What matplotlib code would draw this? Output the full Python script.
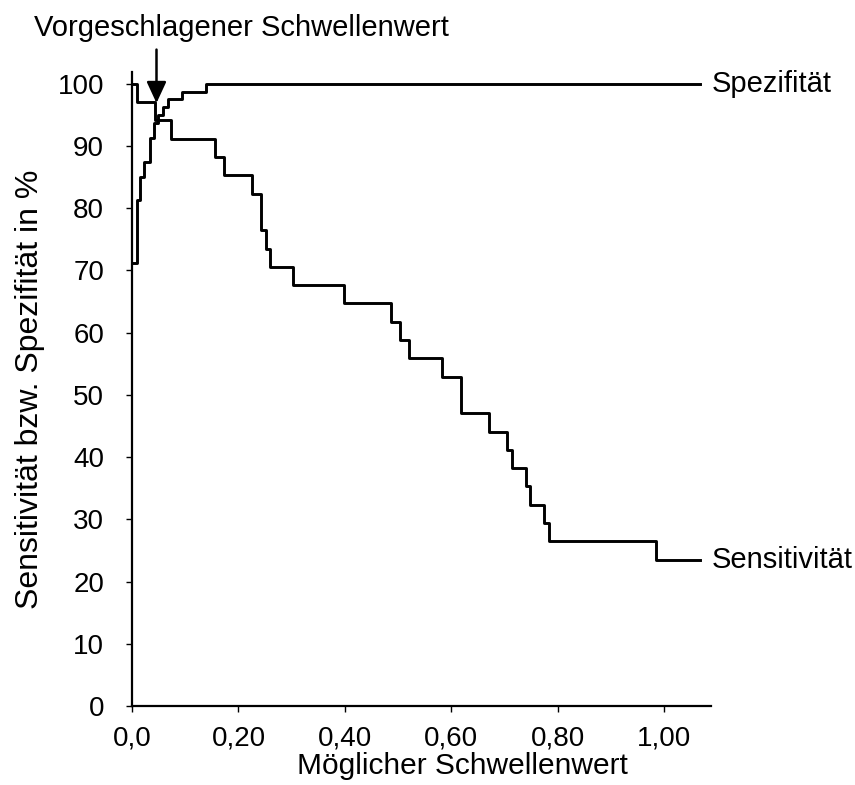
import matplotlib
matplotlib.use("Agg")
import matplotlib.pyplot as plt

plt.rcParams["font.family"] = ["Liberation Sans", "DejaVu Sans"]

# threshold breakpoints and values (steps-post)
sens_x = [0.0, 0.009, 0.043, 0.073, 0.156, 0.173, 0.225, 0.243, 0.251, 0.260,
          0.303, 0.399, 0.487, 0.504, 0.521, 0.582, 0.618, 0.670, 0.705, 0.714,
          0.741, 0.748, 0.775, 0.784, 0.984, 1.068]
sens_y = [100.0, 97.06, 94.12, 91.18, 88.24, 85.29, 82.35, 76.47, 73.53, 70.59,
          67.65, 64.71, 61.76, 58.82, 55.88, 52.94, 47.06, 44.12, 41.18, 38.24,
          35.29, 32.35, 29.41, 26.47, 23.53, 23.53]

spez_x = [0.0, 0.009, 0.015, 0.023, 0.034, 0.041, 0.048, 0.059, 0.068, 0.093,
          0.139, 1.068]
spez_y = [71.25, 81.25, 85.0, 87.5, 91.25, 93.75, 95.0, 96.25, 97.5, 98.75,
          100.0, 100.0]

x_ticks = [0.0, 0.2, 0.4, 0.6, 0.8, 1.0]
x_ticklabels = ["0,0", "0,20", "0,40", "0,60", "0,80", "1,00"]
y_ticks = list(range(0, 101, 10))

suggested = 0.046

fig = plt.figure(figsize=(8.55, 7.85), dpi=100)
ax = fig.add_axes([0.1544, 0.1006, 0.6772, 0.8077])

ax.plot(sens_x, sens_y, drawstyle="steps-post", color="black", lw=2.1)
ax.plot(spez_x, spez_y, drawstyle="steps-post", color="black", lw=2.1)

ax.set_xlim(0, 1.088)
ax.set_ylim(0, 101.9)
ax.set_xticks(x_ticks)
ax.set_xticklabels(x_ticklabels)
ax.set_yticks(y_ticks)

for s in ["top", "right"]:
    ax.spines[s].set_visible(False)
for s in ["left", "bottom"]:
    ax.spines[s].set_linewidth(1.6)

ax.tick_params(axis="y", direction="out", length=4, width=1, pad=16, labelsize=20)
ax.tick_params(axis="x", direction="out", length=4, width=1, pad=10, labelsize=20)

ax.set_xlabel("Möglicher Schwellenwert", fontsize=21.5)
ax.xaxis.set_label_coords(0.57, -0.072)
ax.set_ylabel("Sensitivität bzw. Spezifität in %", fontsize=23)
ax.yaxis.set_label_coords(-0.15, 0.5)

# curve labels
ax.text(1.09, sens_y[-1], "Sensitivität", fontsize=21, va="center", ha="left", clip_on=False)
ax.text(1.09, spez_y[-1], "Spezifität", fontsize=21, va="center", ha="left", clip_on=False)

# suggested threshold arrow
ax.annotate("", xy=(suggested, 96.9), xytext=(suggested, 105.5),
            arrowprops=dict(arrowstyle="-|>,head_length=0.65,head_width=0.3",
                            color="black", lw=1.8, mutation_scale=20,
                            shrinkA=0, shrinkB=0),
            annotation_clip=False)
fig.text(241 / 855, 1 - 28 / 785, "Vorgeschlagener Schwellenwert",
         fontsize=21, ha="center", va="center")

fig.savefig("out.png", dpi=100)
